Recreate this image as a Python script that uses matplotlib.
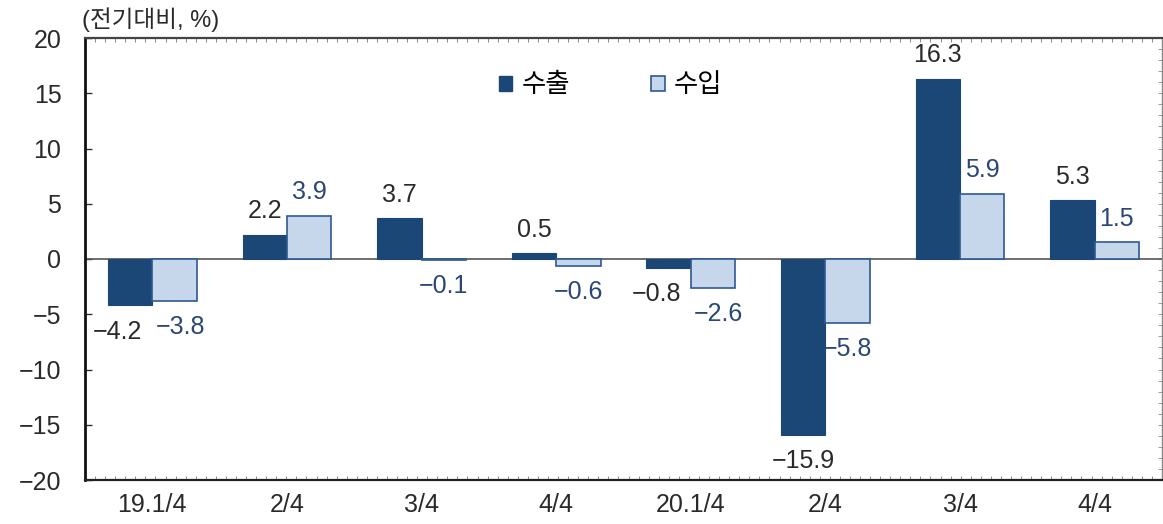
import matplotlib
matplotlib.use("Agg")
import matplotlib.pyplot as plt
import numpy as np
from matplotlib.patches import Patch

plt.rcParams['font.family'] = ['Liberation Sans', 'Noto Sans CJK KR']

# 데이터
quarters = ["19.1/4", "2/4", "3/4", "4/4", "20.1/4", "2/4", "3/4", "4/4"]
exports = [-4.2, 2.2, 3.7, 0.5, -0.8, -15.9, 16.3, 5.3]
imports = [-3.8, 3.9, -0.1, -0.6, -2.6, -5.8, 5.9, 1.5]
series_names = ["수출", "수입"]

dark = "#1b4777"
light = "#c6d6eb"
edge = "#2d5a93"

fig = plt.figure(figsize=(11.63, 5.24), dpi=100)
ax = fig.add_axes([85 / 1163, 44 / 524, 1077 / 1163, 442 / 524])

x = np.arange(len(quarters))
w = 0.33
ax.bar(x - w / 2, exports, w, color=dark, edgecolor=dark, linewidth=0.8, zorder=3)
ax.bar(x + w / 2, imports, w, color=light, edgecolor=edge, linewidth=1.2, zorder=3)

# 값 레이블
def fmt(v):
    return f"\u2212{abs(v):.1f}" if v < 0 else f"{v:.1f}"

for i, (e, m) in enumerate(zip(exports, imports)):
    # 음수 레이블이 서로 겹치면 좌우로 벌림
    crowded = e < 0 and m < 0 and abs(e - m) < 3
    ax.annotate(fmt(e), (x[i] - w / 2, e),
                xytext=(-9 if crowded else 0, 17 if e >= 0 else -19),
                textcoords="offset points", ha="center", va="center",
                fontsize=18, color="#2a2a2a")
    ax.annotate(fmt(m), (x[i] + w / 2, m),
                xytext=(4 if crowded else 0, 17 if m >= 0 else -19),
                textcoords="offset points", ha="center", va="center",
                fontsize=18, color="#2a4775")

ax.axhline(0, color="#555555", linewidth=1.2, zorder=2)

ax.set_xlim(-0.5, len(quarters) - 0.5)
ax.set_ylim(-20, 20)
ax.set_yticks(np.arange(-20, 21, 5))
ax.set_yticklabels([fmt(v).replace(".0", "") for v in np.arange(-20, 21, 5)])
ax.set_xticks(x)
ax.set_xticklabels(quarters)
ax.tick_params(axis="y", direction="in", length=5, width=1, labelsize=18,
               pad=17, colors="#333333", labelcolor="#2a2a2a")
ax.tick_params(axis="x", length=0, labelsize=18, pad=9, labelcolor="#2a2a2a")

# 상단/하단/우측 잔눈금
sec_top = ax.secondary_xaxis("top")
sec_top.set_xticks(np.linspace(-0.5, 7.5, 108))
sec_top.tick_params(direction="in", length=3, width=0.6, colors="#777777", labeltop=False)
sec_bot = ax.secondary_xaxis("bottom")
sec_bot.set_xticks(np.linspace(-0.5, 7.5, 108))
sec_bot.tick_params(direction="in", length=3, width=0.6, colors="#777777", labelbottom=False)
sec_bot.spines["bottom"].set_visible(False)
sec_top.spines["top"].set_visible(False)
sec_r = ax.secondary_yaxis("right")
sec_r.set_yticks(np.arange(-20, 21, 1))
sec_r.tick_params(direction="in", length=3, width=0.6, colors="#888888", labelright=False)
sec_r.spines["right"].set_visible(False)

ax.spines["left"].set_linewidth(2)
ax.spines["left"].set_color("#111111")
ax.spines["bottom"].set_linewidth(1.6)
ax.spines["bottom"].set_color("#222222")
ax.spines["top"].set_linewidth(1.6)
ax.spines["top"].set_color("#444444")
ax.spines["right"].set_linewidth(1)
ax.spines["right"].set_color("#888888")

handles = [Patch(facecolor=dark, edgecolor=dark),
           Patch(facecolor=light, edgecolor=edge, linewidth=1.2)]
ax.legend(handles, series_names, loc="center", bbox_to_anchor=(0.488, 0.893),
          ncol=2, frameon=False, fontsize=19, handlelength=0.5, handleheight=0.5,
          handletextpad=0.35, columnspacing=3.1)

fig.text(82 / 1163, 1 - 20 / 524, "(전기대비, %)", fontsize=17, color="#2a2a2a",
         ha="left", va="center")

fig.savefig("out.png", dpi=100)
